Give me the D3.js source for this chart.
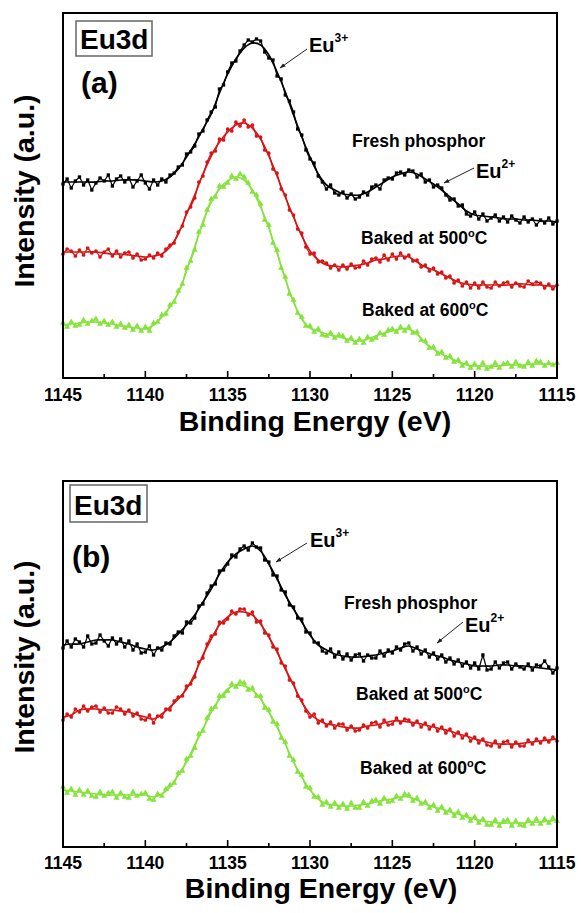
<!DOCTYPE html>
<html>
<head>
<meta charset="utf-8">
<script src="https://cdn.jsdelivr.net/npm/d3@7"></script>
<style>
  body { margin: 0; background: #fff; }
  svg { display: block; font-family: Arial, "Liberation Sans", sans-serif; font-weight: bold; }
</style>
</head>
<body>
<div id="chart"></div>
<script>
// binding energy grids (eV): fit curves every 0.5 eV, measured points every 0.25 eV
const fitEnergy = d3.range(0, 61).map(i => 1145 - i * 0.5);
const dataEnergy = d3.range(0, 121).map(i => 1145 - i * 0.25);
const xTicks = [1145, 1140, 1135, 1130, 1125, 1120, 1115];

// ---- panel (a) ----
const fitA_fresh = [196,196,196,196,196,197,197,198,198,198,197,196,197,201,209,221,234,249,264,285,304,319,330,335,333,323,306,286,263,241,221,204,193,188,184,183,183,186,191,196,201,204,206,204,199,194,188,181,174,167,163,162,161,160,159,159,158,158,157,157,156];
const fitA_500 = [126,126,126,126,126,125,124,124,123,122,121,122,124,131,144,164,183,204,222,236,246,253,255,250,239,222,202,181,161,142,127,118,113,112,111,112,113,115,118,119,121,122,121,116,111,108,104,100,96,94,93,93,93,93,93,94,94,93,93,92,92];
const fitA_600 = [53,54,55,56,56,55,54,52,51,50,49,53,61,71,85,107,131,156,176,189,197,201,198,188,171,150,125,99,76,59,50,47,44,42,40,38,37,39,42,45,47,49,49,44,35,29,24,20,16,13,12,12,12,12,13,13,13,14,14,14,14];

const dataA_fresh = [194,199,190,197, 201,193,198,188, 195,200,197,203, 192,199,202,196, 200,191,197,203, 195,189,198,193, 199,196,203,205, 211,213,224,226, 232,244,247,258, 266,271,289,293, 306,315,317,327, 333,338,336,339, 337,326,320,318, 302,299,283,277, 266,249,243,228, 219,215,202,196, 189,193,185,183, 186,180,184,179, 181,186,183,191, 193,189,198,200, 199,205,206,203, 208,207,201,204, 196,198,191,193, 190,183,178,179, 172,173,164,162, 166,159,164,157, 160,163,157,161, 156,162,158,155, 161,156,159,153, 158,155,160,154, 157];
const dataA_500 = [124,129,127,122, 128,123,130,125, 127,121,126,129, 122,127,121,125, 126,120,124,118, 119,123,120,125, 122,129,133,135, 146,152,166,171, 180,196,202,216, 225,227,239,238, 249,247,256,252, 258,251,253,242, 241,228,225,209, 205,189,183,168, 163,149,145,131, 124,125,116,117, 115,110,113,108, 113,109,114,110, 111,117,113,119, 120,116,123,118, 124,119,125,120, 123,117,118,111, 113,107,110,104, 106,100,102,95, 98,92,96,90, 95,90,96,91, 90,96,92,95, 96,91,95,92, 91,97,94,96, 95,90,94,89, 93];
const dataA_600 = [55,51,56,52, 53,58,54,57, 59,54,57,53, 56,51,54,50, 53,48,52,47, 51,47,55,56, 63,64,73,76, 87,94,110,117, 128,146,153,168, 179,181,192,191, 195,202,199,204, 201,195,186,183, 174,158,153,135, 128,110,101,84, 78,65,61,52, 52,46,49,43, 42,45,40,43, 42,37,40,35, 39,35,41,38, 40,45,43,48, 49,46,51,47, 51,45,46,38, 37,30,31,24, 26,20,22,16, 18,12,15,10, 14,10,15,9, 11,15,10,14, 15,11,16,12, 11,16,12,17, 16,12,15,13, 15];

// ---- panel (b) ----
const fitB_fresh = [202,203,203,205,207,207,207,205,203,200,198,197,200,205,213,222,232,245,258,273,285,293,298,301,296,283,268,252,238,225,212,202,197,193,191,190,190,191,192,194,196,199,201,198,195,192,190,187,185,183,181,181,181,182,182,181,181,180,179,178,177];
const fitB_500 = [130,132,137,138,138,137,137,136,135,132,130,128,133,140,148,158,173,192,208,222,230,235,235,232,223,210,195,178,162,145,133,127,123,122,120,119,119,121,122,124,126,126,125,124,122,120,118,116,113,111,108,106,104,103,103,103,104,105,106,107,108];
const fitB_600 = [57,56,55,54,53,52,52,52,52,52,52,50,53,60,72,85,102,118,135,148,158,162,161,157,148,135,120,103,85,70,57,48,43,42,41,41,42,43,45,47,48,50,50,47,43,40,38,35,33,30,28,26,25,24,24,24,24,25,25,26,27];

const dataB_fresh = [199,206,200,208, 205,200,211,203, 204,212,206,201, 209,203,208,200, 206,197,203,194, 195,201,192,199, 197,204,203,211, 215,214,225,224, 229,241,243,254, 261,263,276,277, 283,292,290,298, 301,297,304,300, 299,287,285,272, 271,257,255,242, 240,229,228,215, 214,205,204,196, 194,198,190,195, 188,193,187,192, 193,186,192,189, 189,196,191,197, 194,200,197,203, 204,196,200,193, 197,190,194,188, 192,185,189,183, 187,181,185,179, 184,178,192,177, 178,185,179,184, 185,178,183,180, 178,183,177,182, 181,186,180,174, 179];
const dataB_500 = [127,133,130,138, 135,141,136,140, 141,135,139,134, 134,140,138,133, 137,131,134,128, 127,132,124,131, 130,138,137,146, 150,151,161,163, 170,185,189,203, 211,213,225,224, 228,236,233,238, 238,232,235,225, 226,214,212,200, 198,184,181,167, 164,151,147,136, 130,133,124,127, 121,125,119,123, 123,117,121,116, 117,122,119,124, 125,120,127,122, 123,129,124,128, 127,122,126,120, 124,118,122,116, 120,114,118,111, 115,109,113,106, 110,104,108,102, 101,106,100,105, 106,100,105,101, 101,107,103,108, 104,109,105,110, 106];
const dataB_600 = [60,54,58,52, 57,52,56,51, 50,55,51,54, 55,49,54,50, 49,55,51,53, 54,48,47,53, 51,58,62,64, 74,76,88,91, 99,113,116,129, 138,140,151,151, 156,163,160,165, 164,157,159,151, 151,139,137,125, 123,109,105,91, 87,75,72,60, 59,50,50,42, 45,40,44,39, 43,38,44,39, 39,45,41,46, 47,43,49,45, 46,51,48,53, 52,46,49,43, 45,39,42,36, 40,34,37,31, 35,29,32,26, 30,24,28,22, 22,27,21,26, 27,21,26,22, 21,27,23,28, 23,28,24,29, 26];

const colors = { fresh: "#000000", b500: "#d81414", b600: "#86e33c" };

const width = 581, height = 913;
const svg = d3.select("#chart").append("svg")
    .attr("width", width)
    .attr("height", height);

const panels = [
  {
    name: "(a)", top: 13, bottom: 378,
    fits: [fitA_600, fitA_500, fitA_fresh], data: [dataA_600, dataA_500, dataA_fresh],
    box: [76, 21, 76, 35], tickY: 401, xLabelY: 431, yLabelY: 191, xLabelX: 315,
    tag: [81, 93],
    texts: [["Fresh phosphor", 352, 147], ["Baked at 500", 361, 244], ["Baked at 600", 362, 316]],
    eu: [["3+", 309, 52, [307, 49], [280, 68]], ["2+", 476, 178, [474, 168], [444, 183]]]
  },
  {
    name: "(b)", top: 481, bottom: 847,
    fits: [fitB_600, fitB_500, fitB_fresh], data: [dataB_600, dataB_500, dataB_fresh],
    box: [70, 485, 77, 37], tickY: 869, xLabelY: 898, yLabelY: 657, xLabelX: 321,
    tag: [72, 567],
    texts: [["Fresh phosphor", 344, 609], ["Baked at 500", 356, 700], ["Baked at 600", 360, 774]],
    eu: [["3+", 310, 547, [307, 543], [276, 562]], ["2+", 465, 632, [463, 622], [437, 643]]]
  }
];

const seriesColor = [colors.b600, colors.b500, colors.fresh];

svg.append("defs").append("marker")
    .attr("id", "arrow")
    .attr("viewBox", "0 0 10 10")
    .attr("refX", 9).attr("refY", 5)
    .attr("markerWidth", 6).attr("markerHeight", 6)
    .attr("orient", "auto")
  .append("path")
    .attr("d", "M0,1.5 L10,5 L0,8.5 Z")
    .attr("fill", "#222");

function drawPanel(p) {
    const x = d3.scaleLinear().domain([1145, 1115]).range([63, 557]);
    const y = d3.scaleLinear().domain([0, p.bottom - p.top]).range([p.bottom, p.top]);
    const g = svg.append("g");

    // measured points: thin trace with small symbols
    p.data.forEach((vals, i) => {
        const pts = vals.map((v, j) => [dataEnergy[j], v]);
        g.append("path")
            .attr("d", d3.line().x(d => x(d[0])).y(d => y(d[1]))(pts))
            .attr("fill", "none")
            .attr("stroke", seriesColor[i])
            .attr("stroke-width", 1.2);
        const sym = [d3.symbolTriangle, d3.symbolCircle, d3.symbolSquare][i];
        g.selectAll(null)
            .data(pts)
            .join("path")
            .attr("transform", d => `translate(${x(d[0])},${y(d[1])})`)
            .attr("d", d3.symbol().type(sym).size(i == 0 ? 16 : 11))
            .attr("fill", seriesColor[i]);
    });

    // fitted curves
    p.fits.forEach((vals, i) => {
        const pts = vals.map((v, j) => [fitEnergy[j], v]);
        g.append("path")
            .attr("d", d3.line().curve(d3.curveCatmullRom).x(d => x(d[0])).y(d => y(d[1]))(pts))
            .attr("fill", "none")
            .attr("stroke", seriesColor[i])
            .attr("stroke-width", 1.7);
    });

    // frame
    g.append("rect")
        .attr("x", 63).attr("y", p.top)
        .attr("width", 494).attr("height", p.bottom - p.top)
        .attr("fill", "none")
        .attr("stroke", "#000")
        .attr("stroke-width", 2);

    // bottom axis, ticks inward
    const minor = d3.range(1142.5, 1115, -5);
    g.selectAll(null).data(xTicks.slice(1, -1)).join("line")
        .attr("x1", d => x(d)).attr("x2", d => x(d))
        .attr("y1", p.bottom).attr("y2", p.bottom - 7)
        .attr("stroke", "#000").attr("stroke-width", 1.6);
    g.selectAll(null).data(minor).join("line")
        .attr("x1", d => x(d)).attr("x2", d => x(d))
        .attr("y1", p.bottom).attr("y2", p.bottom - 4)
        .attr("stroke", "#000").attr("stroke-width", 1.6);
    g.selectAll(null).data(xTicks).join("text")
        .attr("x", d => x(d)).attr("y", p.tickY)
        .attr("text-anchor", "middle")
        .attr("font-size", 17.5)
        .text(d => d);

    g.append("text")
        .attr("x", p.xLabelX).attr("y", p.xLabelY)
        .attr("text-anchor", "middle")
        .attr("font-size", 28.5)
        .text("Binding Energy (eV)");
    g.append("text")
        .attr("transform", `translate(34,${p.yLabelY}) rotate(-90)`)
        .attr("text-anchor", "middle")
        .attr("font-size", 28.5)
        .text("Intensity (a.u.)");

    // Eu3d box and panel tag
    g.append("rect")
        .attr("x", p.box[0]).attr("y", p.box[1])
        .attr("width", p.box[2]).attr("height", p.box[3])
        .attr("fill", "none").attr("stroke", "#666").attr("stroke-width", 1.5);
    g.append("text")
        .attr("x", p.box[0] + 4).attr("y", p.box[1] + p.box[3] - 7)
        .attr("font-size", 28)
        .text("Eu3d");
    g.append("text")
        .attr("x", p.tag[0]).attr("y", p.tag[1])
        .attr("font-size", 30)
        .text(p.name);

    p.texts.forEach((t, i) => {
        const txt = g.append("text")
            .attr("x", t[1]).attr("y", t[2])
            .attr("font-size", 17.5)
            .text(t[0]);
        if (i > 0) {
            txt.append("tspan").attr("font-size", 11).attr("dy", -7).text("o");
            txt.append("tspan").attr("dy", 7).text("C");
        }
    });

    p.eu.forEach(e => {
        const txt = g.append("text")
            .attr("x", e[1]).attr("y", e[2])
            .attr("font-size", 20)
            .text("Eu");
        txt.append("tspan").attr("font-size", 12).attr("dy", -10).text(e[0]);
        g.append("line")
            .attr("x1", e[3][0]).attr("y1", e[3][1])
            .attr("x2", e[4][0]).attr("y2", e[4][1])
            .attr("stroke", "#222").attr("stroke-width", 1)
            .attr("marker-end", "url(#arrow)");
    });
}

panels.forEach(drawPanel);
</script>
</body>
</html>
